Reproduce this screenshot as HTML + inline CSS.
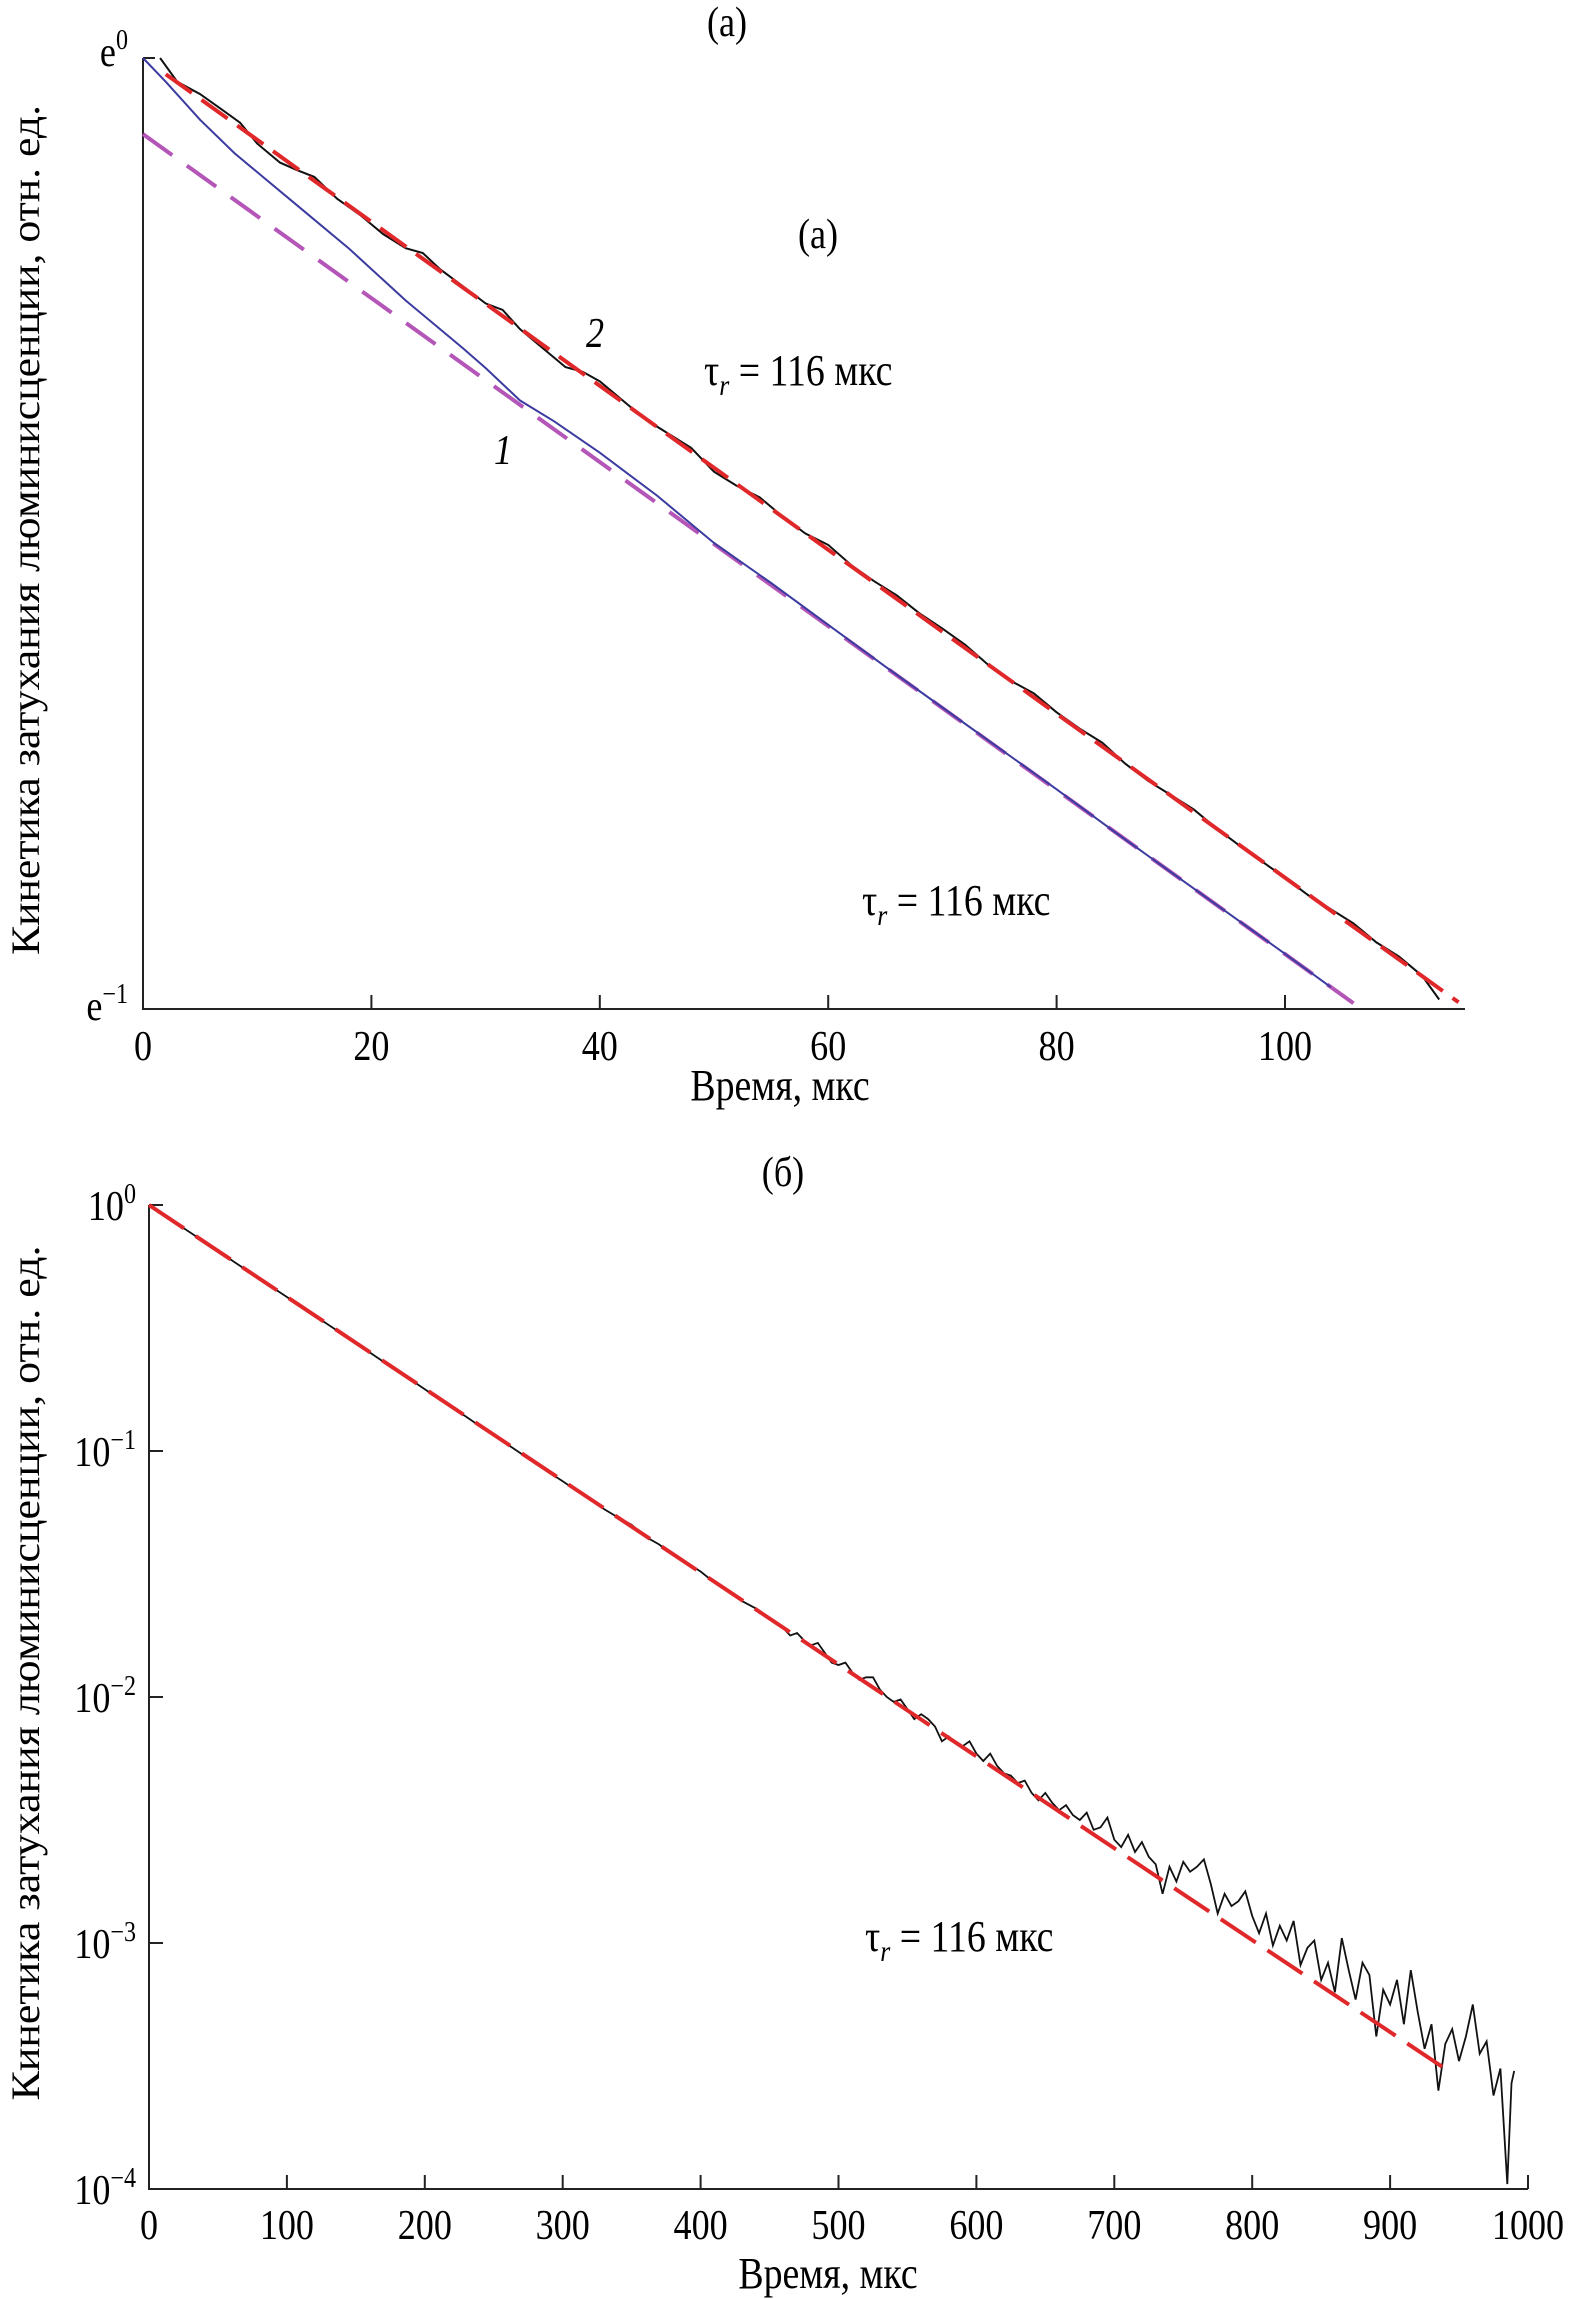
<!DOCTYPE html>
<html><head><meta charset="utf-8">
<style>
html,body{margin:0;padding:0;background:#fff;}
svg{display:block;font-family:"Liberation Serif","DejaVu Serif",serif;}
</style></head>
<body>
<svg id="fig" width="1569" height="2299" viewBox="0 0 1569 2299" style="position:absolute;left:0;top:0;">
  <g id="top"></g>
  <g id="bot"></g>
</svg>
<script>
// ---- Panel (a) data: ln(I) vs time (мкс)
const aXTicks = [0, 20, 40, 60, 80, 100];
const aCurve1T = [0,2,5,8,10,13,15,18,20,23,25,28,30,33,36,40,45,50,55,60,65,70,75,80,85,90,95,100,104];
const aCurve1Y = [0,-0.025,-0.065,-0.1,-0.12,-0.15,-0.17,-0.2,-0.222,-0.255,-0.275,-0.305,-0.326,-0.36,-0.382,-0.415,-0.46,-0.51,-0.552,-0.596,-0.64,-0.683,-0.726,-0.769,-0.813,-0.856,-0.899,-0.942,-0.977];
const aCurve2T = [1.5,3,5,7,8.5,10,12,13.5,15,17,19,21,23,24.5,26,28,30,31.5,33,35,37,38.5,40,42,44,46,48,50,52,54,56,58,60,62,64,66,68,70,72,74,76,78,80,82,84,86,88,90,92,94,96,98,100,102,104,106,108,110,112,113.5];
const aCurve2Y = [0,-0.025,-0.038,-0.055,-0.068,-0.09,-0.11,-0.118,-0.125,-0.148,-0.165,-0.185,-0.2,-0.205,-0.222,-0.24,-0.258,-0.265,-0.285,-0.305,-0.325,-0.33,-0.34,-0.36,-0.38,-0.395,-0.41,-0.435,-0.45,-0.462,-0.482,-0.5,-0.512,-0.533,-0.55,-0.565,-0.584,-0.6,-0.617,-0.638,-0.655,-0.668,-0.688,-0.705,-0.72,-0.742,-0.76,-0.775,-0.79,-0.81,-0.828,-0.845,-0.862,-0.88,-0.895,-0.91,-0.93,-0.945,-0.965,-0.99];
const aFit2T = [2, 115.2];
const aFit2Y = [-0.017, -0.993];
const aFit1T = [0, 106];
const aFit1Y = [-0.08, -0.994];

// ---- Panel (b) data: log10(I) vs time (мкс)
const bXTicks = [0,100,200,300,400,500,600,700,800,900,1000];
const bYTicks = [0,-1,-2,-3,-4];
const bT = [0,10,20,30,40,50,60,70,80,90,100,110,120,130,140,150,160,170,180,190,200,210,220,230,240,250,260,270,280,290,300,310,320,330,340,350,360,370,380,390,400,410,420,430,440,
450,455,460,465,470,475,480,485,490,495,500,505,510,515,520,525,530,535,540,545,550,555,560,565,570,575,580,585,590,595,600,605,610,615,620,625,630,635,640,645,650,655,660,665,670,675,680,685,690,695,700,705,710,715,720,725,730,735,740,745,750,755,760,765,770,775,780,785,790,795,800,805,810,815,820,825,830,835,840,845,850,855,860,865,870,875,880,885,890,895,900,905,910,915,920,925,930,935,940,945,950,955,960,965,970,975,980,985,988,990];
const bY = [0,-0.037,-0.075,-0.112,-0.15,-0.187,-0.225,-0.262,-0.3,-0.337,-0.374,-0.412,-0.449,-0.487,-0.524,-0.562,-0.599,-0.637,-0.674,-0.711,-0.749,-0.786,-0.824,-0.861,-0.899,-0.936,-0.973,-1.011,-1.045,-1.086,-1.123,-1.161,-1.192,-1.236,-1.27,-1.3,-1.348,-1.38,-1.423,-1.455,-1.49,-1.535,-1.565,-1.61,-1.64,
-1.68,-1.7,-1.72,-1.75,-1.74,-1.77,-1.79,-1.78,-1.82,-1.86,-1.87,-1.86,-1.9,-1.93,-1.92,-1.92,-1.97,-2,-2.02,-2.01,-2.05,-2.09,-2.07,-2.09,-2.12,-2.18,-2.16,-2.19,-2.2,-2.18,-2.23,-2.26,-2.23,-2.28,-2.31,-2.32,-2.35,-2.34,-2.39,-2.42,-2.39,-2.43,-2.46,-2.44,-2.48,-2.5,-2.47,-2.54,-2.53,-2.49,-2.58,-2.61,-2.56,-2.63,-2.59,-2.65,-2.68,-2.8,-2.69,-2.75,-2.67,-2.71,-2.69,-2.66,-2.76,-2.88,-2.8,-2.85,-2.83,-2.79,-2.89,-2.96,-2.88,-3.01,-2.93,-2.99,-2.91,-3.09,-3.02,-2.99,-3.15,-3.08,-3.2,-2.98,-3.11,-3.23,-3.08,-3.13,-3.38,-3.19,-3.25,-3.15,-3.33,-3.11,-3.28,-3.43,-3.33,-3.6,-3.41,-3.35,-3.48,-3.38,-3.25,-3.45,-3.4,-3.62,-3.51,-3.98,-3.57,-3.52];
const bFitT = [0, 945];
const bFitY = [0, -3.53];

const NS = "http://www.w3.org/2000/svg";
function mk(parent, tag, attrs){ const e=document.createElementNS(NS,tag); for(const k in attrs) e.setAttribute(k,attrs[k]); parent.appendChild(e); return e; }
function poly(xs, ys, fx, fy){ return xs.map((t,i)=>fx(t).toFixed(1)+','+fy(ys[i]).toFixed(1)).join(' '); }
function txt(parent,x,y,str,anchor){
  const t=mk(parent,'text',{transform:'translate('+x+','+y+') scale(0.86,1)','font-size':42,'text-anchor':anchor});
  t.textContent=str; return t;
}
function supLabel(parent,x,y,base,exp){
  const t=mk(parent,'text',{transform:'translate('+x+','+y+') scale(0.86,1)','font-size':42,'text-anchor':'end'});
  const s1=document.createElementNS(NS,'tspan'); s1.textContent=base; t.appendChild(s1);
  const s2=document.createElementNS(NS,'tspan'); s2.setAttribute('dy','-17'); s2.setAttribute('font-size','28'); s2.textContent=exp; t.appendChild(s2);
  return t;
}

// ---------- Panel (a)
const A = document.getElementById('top');
const ax = t => 143 + t*11.42;
const ay = v => 58 - v*951;
let el;
el = mk(A,'line',{x1:143,y1:58,x2:143,y2:1009,stroke:'#222','stroke-width':2});
 
el = mk(A,'line',{x1:142,y1:1009,x2:1465,y2:1009,stroke:'#222','stroke-width':2});
 
el = mk(A,'line',{x1:143,y1:58,x2:155,y2:58,stroke:'#222','stroke-width':2});
 
aXTicks.forEach(t=>{
  const x=ax(t);
  const tk=mk(A,'line',{x1:x,y1:1009,x2:x,y2:995,stroke:'#222','stroke-width':2});
   
  const lb=txt(A,x,1060,String(t),'middle');
   
});
el = supLabel(A,128,66,'e','0');
 
el = supLabel(A,128,1020,'e','\u22121');
 

el = mk(A,'polyline',{points:poly(aFit1T,aFit1Y,ax,ay),fill:'none',stroke:'#b455b8','stroke-width':4,'stroke-dasharray':'36 18'});
 
el = mk(A,'polyline',{points:poly(aCurve1T,aCurve1Y,ax,ay),fill:'none',stroke:'#3b3ba0','stroke-width':2});
 
el = mk(A,'polyline',{points:poly(aCurve2T,aCurve2Y,ax,ay),fill:'none',stroke:'#111','stroke-width':2});
 
el = mk(A,'polyline',{points:poly(aFit2T,aFit2Y,ax,ay),fill:'none',stroke:'#e0282a','stroke-width':4,'stroke-dasharray':'32 12'});
 

// ---------- Panel (b)
const B = document.getElementById('bot');
const bx = t => 149 + t*1.379;
const by = v => 1205 - v*246;
el = mk(B,'line',{x1:149,y1:1205,x2:149,y2:2189,stroke:'#222','stroke-width':2});
 
el = mk(B,'line',{x1:148,y1:2189,x2:1528,y2:2189,stroke:'#222','stroke-width':2});
 
bXTicks.forEach(t=>{
  const x=bx(t);
  const tk=mk(B,'line',{x1:x,y1:2189,x2:x,y2:2175,stroke:'#222','stroke-width':2});
   
  const lb=txt(B,x,2239,String(t),'middle');
   
});
bYTicks.forEach(v=>{
  const y=by(v);
  const tk=mk(B,'line',{x1:149,y1:y,x2:163,y2:y,stroke:'#222','stroke-width':2});
   
  const lb=supLabel(B,136,y+15,'10', v===0?'0':'\u2212'+(-v));
   
});
el = mk(B,'polyline',{points:poly(bT,bY,bx,by),fill:'none',stroke:'#111','stroke-width':1.8});
 
el = mk(B,'polyline',{points:poly(bFitT,bFitY,bx,by),fill:'none',stroke:'#e0282a','stroke-width':4,'stroke-dasharray':'42 14'});
 
</script>
<svg width="1569" height="2299" style="position:absolute;left:0;top:0;pointer-events:none;font-family:'Liberation Serif',serif;">
  <text transform="translate(727,36) scale(0.86,1)" font-size="42" text-anchor="middle">(а)</text>
  <text transform="translate(818,248) scale(0.86,1)" font-size="42" text-anchor="middle">(а)</text>
  <text transform="translate(595,347) scale(0.86,1)" font-size="42" font-style="italic" text-anchor="middle">2</text>
  <text transform="translate(503,464) scale(0.86,1)" font-size="42" font-style="italic" text-anchor="middle">1</text>
  <text transform="translate(704,385) scale(0.86,1)" font-size="44">τ<tspan font-style="italic" font-size="30" dy="10">r</tspan><tspan dy="-10"> = 116 мкс</tspan></text>
  <text transform="translate(862,915) scale(0.86,1)" font-size="44">τ<tspan font-style="italic" font-size="30" dy="10">r</tspan><tspan dy="-10"> = 116 мкс</tspan></text>
  <text transform="translate(780,1100) scale(0.86,1)" font-size="44" text-anchor="middle">Время, мкс</text>
  <text transform="translate(39,530) rotate(-90)" font-size="40" text-anchor="middle" textLength="850" lengthAdjust="spacingAndGlyphs">Кинетика затухания люминисценции, отн. ед.</text>
  <text transform="translate(783,1186) scale(0.86,1)" font-size="42" text-anchor="middle">(б)</text>
  <text transform="translate(865,1951) scale(0.86,1)" font-size="44">τ<tspan font-style="italic" font-size="30" dy="10">r</tspan><tspan dy="-10"> = 116 мкс</tspan></text>
  <text transform="translate(828,2288) scale(0.86,1)" font-size="44" text-anchor="middle">Время, мкс</text>
  <text transform="translate(39,1673) rotate(-90)" font-size="40" text-anchor="middle" textLength="855" lengthAdjust="spacingAndGlyphs">Кинетика затухания люминисценции, отн. ед.</text>
</svg>
</body></html>
